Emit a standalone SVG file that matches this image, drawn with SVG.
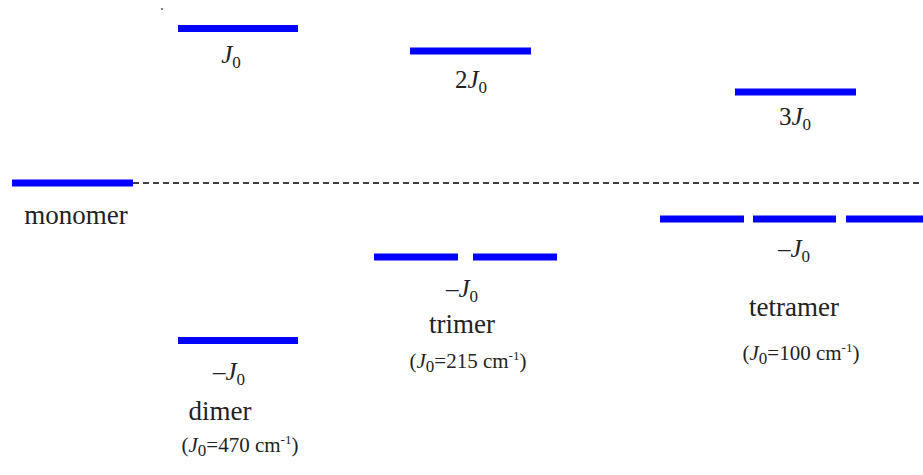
<svg xmlns="http://www.w3.org/2000/svg" width="923" height="475" viewBox="0 0 923 475">
<style>
.lvl{stroke:#0000ff;stroke-width:7;fill:none}
text{font-family:'Liberation Serif','DejaVu Serif',serif;fill:#222;text-anchor:middle}
.big{font-size:27px}
.j{font-size:25px}
.sm{font-size:21px}
.i{font-style:italic}
.sub{font-size:17px}
.sup{font-size:13px}
</style>
<rect width="923" height="475" fill="#fff"/>
<g id="connectors">
<line x1="133" y1="183" x2="923" y2="183" stroke="#000" stroke-width="1.5" stroke-dasharray="6,4"/>
</g>
<g id="monomer">
<line class="lvl" x1="12" y1="183" x2="133" y2="183"/>
<text class="big" x="76" y="224">monomer</text>
</g>
<g id="dimer">
<circle cx="162" cy="9" r="1" fill="#555"/>
<line class="lvl" x1="178" y1="28.5" x2="298" y2="28.5"/>
<text class="j" x="231" y="63"><tspan class="i">J</tspan><tspan class="sub" dy="5">0</tspan></text>
<line class="lvl" x1="178" y1="340.5" x2="298" y2="340.5"/>
<text class="j" x="229" y="380">–<tspan class="i">J</tspan><tspan class="sub" dy="5">0</tspan></text>
<text class="big" x="220" y="420">dimer</text>
<text class="sm" x="240" y="452">(<tspan class="i">J</tspan><tspan class="sub" dy="4">0</tspan><tspan dy="-4">=470 cm</tspan><tspan class="sup" dy="-8">-1</tspan><tspan dy="8">)</tspan></text>
</g>
<g id="trimer">
<line class="lvl" x1="410" y1="51" x2="531" y2="51"/>
<text class="j" x="471" y="88">2<tspan class="i">J</tspan><tspan class="sub" dy="5">0</tspan></text>
<line class="lvl" x1="374" y1="257" x2="458" y2="257"/>
<line class="lvl" x1="473" y1="257" x2="557" y2="257"/>
<text class="j" x="462" y="297">–<tspan class="i">J</tspan><tspan class="sub" dy="5">0</tspan></text>
<text class="big" x="462" y="333">trimer</text>
<text class="sm" x="468" y="368">(<tspan class="i">J</tspan><tspan class="sub" dy="4">0</tspan><tspan dy="-4">=215 cm</tspan><tspan class="sup" dy="-8">-1</tspan><tspan dy="8">)</tspan></text>
</g>
<g id="tetramer">
<line class="lvl" x1="735" y1="92" x2="856" y2="92"/>
<text class="j" x="795" y="125">3<tspan class="i">J</tspan><tspan class="sub" dy="5">0</tspan></text>
<line class="lvl" x1="660" y1="219" x2="744" y2="219"/>
<line class="lvl" x1="753" y1="219" x2="836" y2="219"/>
<line class="lvl" x1="846" y1="219" x2="923" y2="219"/>
<text class="j" x="794" y="257">–<tspan class="i">J</tspan><tspan class="sub" dy="5">0</tspan></text>
<text class="big" x="794" y="316">tetramer</text>
<text class="sm" x="801" y="360">(<tspan class="i">J</tspan><tspan class="sub" dy="4">0</tspan><tspan dy="-4">=100 cm</tspan><tspan class="sup" dy="-8">-1</tspan><tspan dy="8">)</tspan></text>
</g>
</svg>
